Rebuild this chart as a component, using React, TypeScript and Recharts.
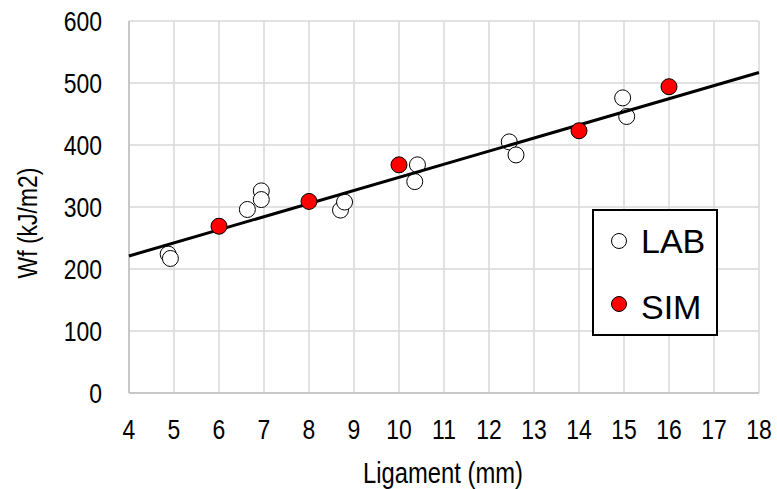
import React from 'react'
import {
  ScatterChart,
  Scatter,
  XAxis,
  YAxis,
  CartesianGrid,
  Legend,
} from 'recharts'

// Lab measurements (ligament mm, Wf kJ/m2)
const LAB_X = [4.87, 4.92, 6.63, 6.94, 6.94, 8.7, 8.79, 10.35, 10.41, 12.45, 12.6, 14.97, 15.06]
const LAB_Y = [224, 217, 296, 326, 312, 295, 308, 341, 368, 405, 384, 476, 446]

// Simulation results
const SIM_X = [6, 8, 10, 14, 16]
const SIM_Y = [269, 309, 368, 423, 494]

// Linear trendline end points
const TREND_X = [4, 18]
const TREND_Y = [221, 517]

const X_TICKS = [4, 5, 6, 7, 8, 9, 10, 11, 12, 13, 14, 15, 16, 17, 18]
const Y_TICKS = [0, 100, 200, 300, 400, 500, 600]

const LEGEND_ITEMS = [
  { name: 'LAB', fill: '#ffffff' },
  { name: 'SIM', fill: '#ff0000' },
]

const labData = LAB_X.map((x, i) => ({ x, y: LAB_Y[i] }))
const simData = SIM_X.map((x, i) => ({ x, y: SIM_Y[i] }))
const trendData = TREND_X.map((x, i) => ({ x, y: TREND_Y[i] }))

const SANS = '"Liberation Sans", Arial, sans-serif'
const SQUEEZE = 0.82 // the original uses a narrow Arial

const dot = (fill: string) => (props: any) => (
  <circle cx={props.cx} cy={props.cy} r={8} fill={fill} stroke="#000" strokeWidth={1} />
)

// text drawn condensed horizontally around its anchor
const Narrow = ({ x, y, size, anchor, dy, rotate, children }: any) => (
  <g transform={`translate(${x},${y})${rotate ? ` rotate(${rotate})` : ''} scale(${SQUEEZE},1)`}>
    <text x={0} y={0} dy={dy} textAnchor={anchor} fontSize={size} fontFamily={SANS} fill="#000">
      {children}
    </text>
  </g>
)

const XTick = (props: any) => (
  <Narrow x={props.x} y={props.y} size={28} anchor="middle" dy="0.71em">
    {props.payload.value}
  </Narrow>
)

const YTick = (props: any) => (
  <Narrow x={props.x} y={props.y} size={28} anchor="end" dy="0.36em">
    {props.payload.value}
  </Narrow>
)

const XLabel = (props: any) => {
  const vb = props.viewBox
  return (
    <Narrow x={vb.x + vb.width / 2 - 1} y={vb.y + 90} size={29} anchor="middle">
      Ligament (mm)
    </Narrow>
  )
}

const YLabel = (props: any) => {
  const vb = props.viewBox
  return (
    <Narrow x={vb.x + 27} y={vb.y + vb.height / 2 + 16} size={28} anchor="middle" dy="0.35em" rotate={-90}>
      Wf (kJ/m2)
    </Narrow>
  )
}

const LegendBox = () => (
  <div
    style={{
      width: 126,
      height: 127,
      boxSizing: 'border-box',
      border: '2px solid #000',
      background: '#fff',
      position: 'relative',
    }}
  >
    <svg width={122} height={123} style={{ position: 'absolute', left: 0, top: 0 }}>
      {LEGEND_ITEMS.map((item, i) => (
        <g key={item.name}>
          <circle cx={25} cy={30 + i * 63} r={7.5} fill={item.fill} stroke="#000" strokeWidth={1} />
          <text x={47} y={42 + i * 66} fontSize={34} fontFamily={SANS} fill="#000">
            {item.name}
          </text>
        </g>
      ))}
    </svg>
  </div>
)

export default function App() {
  return (
    <div style={{ position: 'fixed', left: 0, top: 0, width: 777, height: 489, background: '#fff' }}>
      <ScatterChart width={777} height={489} margin={{ top: 21, right: 18, left: 0, bottom: 0 }}>
        <CartesianGrid stroke="#d9d9d9" strokeWidth={1.5} />
        <XAxis
          type="number"
          dataKey="x"
          domain={[4, 18]}
          ticks={X_TICKS}
          height={96}
          tickSize={0}
          tickMargin={26}
          tickLine={false}
          axisLine={{ stroke: '#bfbfbf', strokeWidth: 1.5 }}
          tick={XTick}
          interval={0}
          label={{ content: XLabel }}
        />
        <YAxis
          type="number"
          dataKey="y"
          domain={[0, 600]}
          ticks={Y_TICKS}
          width={129}
          tickSize={0}
          tickMargin={27}
          tickLine={false}
          axisLine={{ stroke: '#bfbfbf', strokeWidth: 1.5 }}
          tick={YTick}
          interval={0}
          label={{ content: YLabel }}
        />
        <Scatter name="LAB" data={labData} shape={dot('#ffffff')} isAnimationActive={false} />
        <Scatter
          name="trend"
          data={trendData}
          line={{ stroke: '#000', strokeWidth: 3 }}
          shape={() => <g />}
          isAnimationActive={false}
        />
        <Scatter name="SIM" data={simData} shape={dot('#ff0000')} isAnimationActive={false} />
        <Legend
          layout="vertical"
          align="center"
          verticalAlign="middle"
          content={() => <LegendBox />}
          wrapperStyle={{ left: 592, top: 209, width: 126, height: 127 }}
        />
      </ScatterChart>
    </div>
  )
}
